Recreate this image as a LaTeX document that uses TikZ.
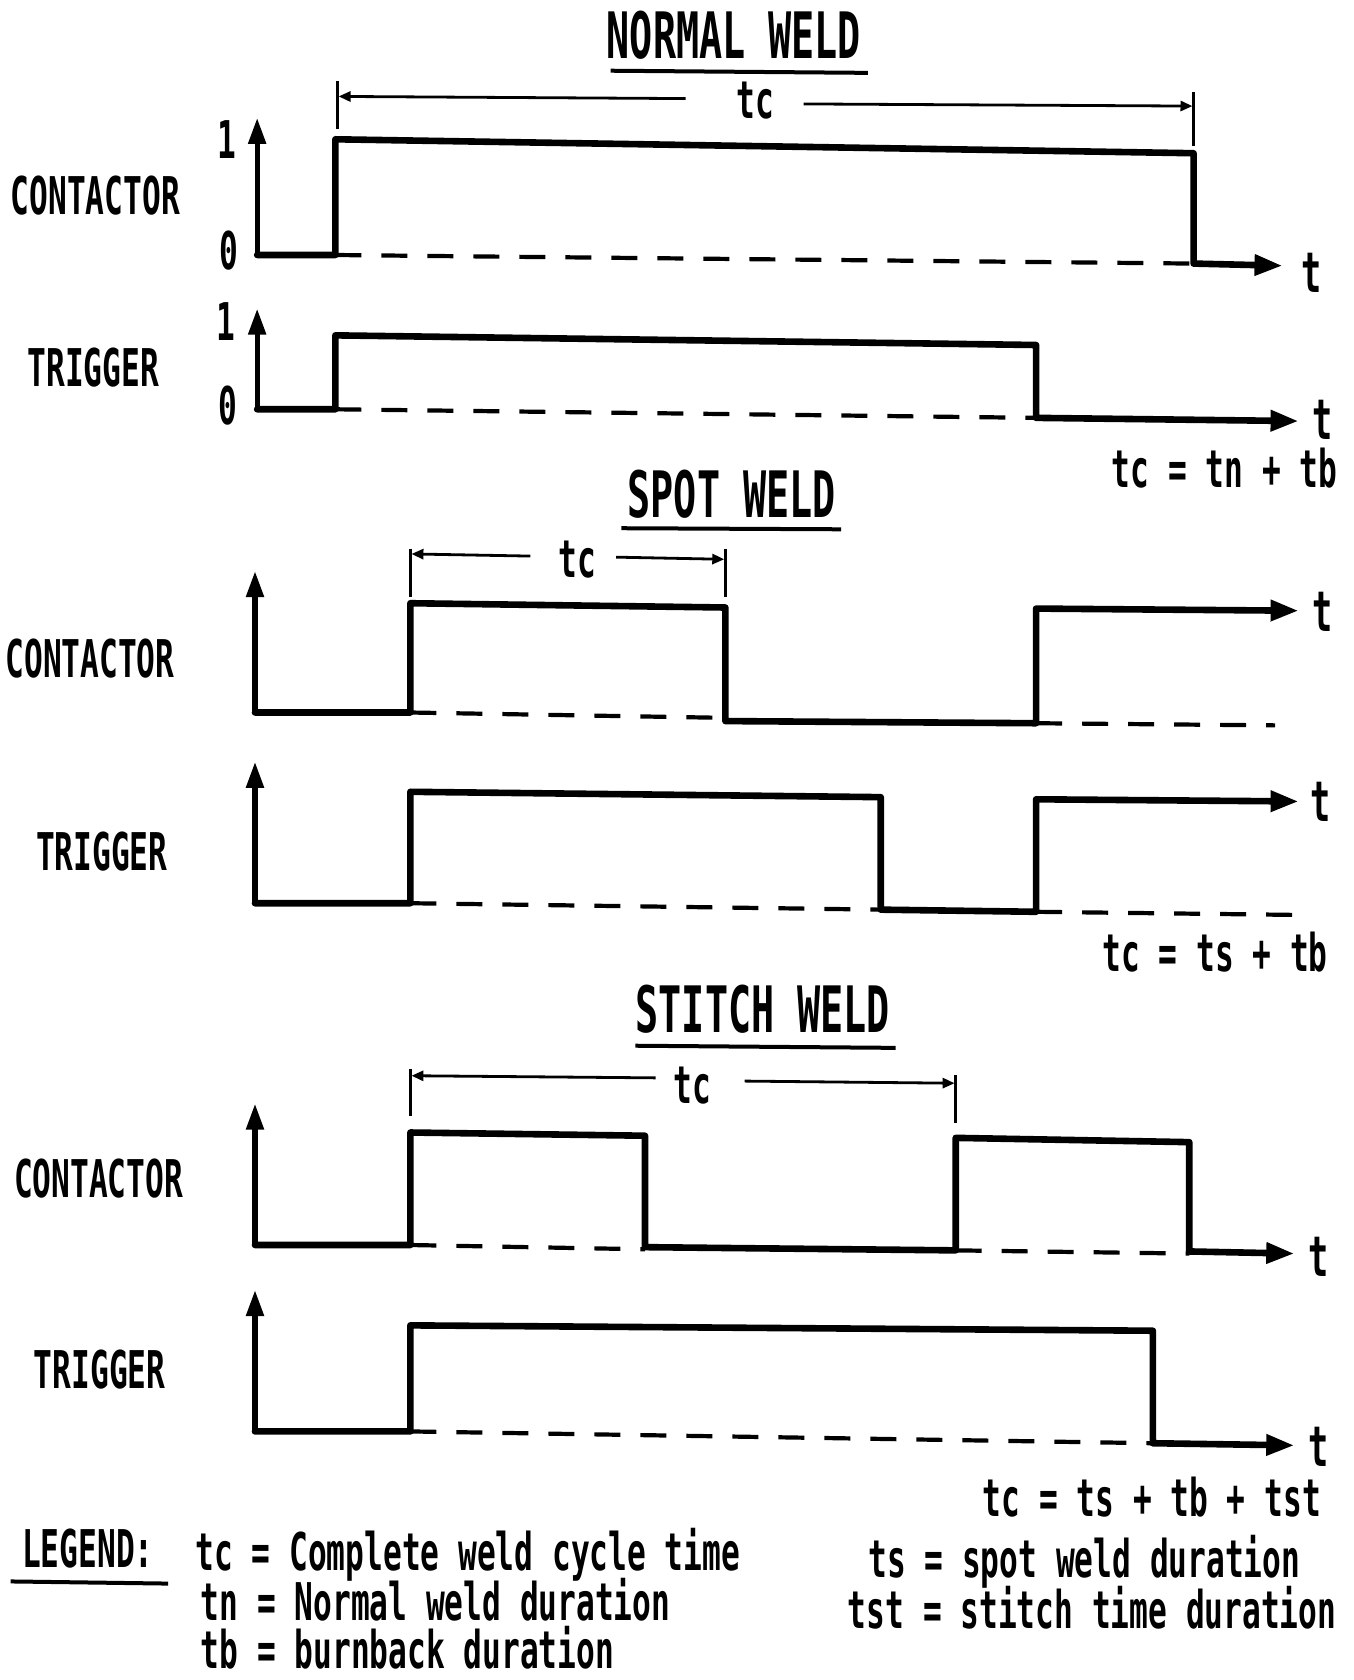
\documentclass[tikz,border=0pt]{standalone}
\usepackage{fontspec}
\newfontfamily\plot[FakeStretch=0.6]{DejaVu Sans Mono}
\usetikzlibrary{arrows.meta}
\begin{document}
\begin{tikzpicture}[x=0.5357pt,y=-0.5357pt,
  sig/.style={line width=3.3pt,line join=round,line cap=round},
  sigend/.style={sig,-{Triangle[length=14pt,width=10pt]}},
  axisv/.style={line width=2.6pt,-{Triangle[length=13pt,width=8.5pt]}},
  base/.style={line width=2.1pt,dash pattern=on 13pt off 10pt},
  dimline/.style={line width=1.4pt,-{Triangle[length=6pt,width=5pt]}},
  dimtick/.style={line width=1.4pt},
  uline/.style={line width=2pt},
  lbl/.style={inner sep=0pt,font=\plot\bfseries\fontsize{26}{28}\selectfont,text height=19pt,text depth=0pt},
  ttl/.style={inner sep=0pt,font=\plot\bfseries\fontsize{32}{34}\selectfont,text height=23.3pt,text depth=0pt},
  tlbl/.style={inner sep=0pt,font=\plot\bfseries\fontsize{28}{30}\selectfont},
  leg/.style={inner sep=0pt,anchor=base west,font=\plot\bfseries\fontsize{26}{28}\selectfont}
]
\useasboundingbox (0,0) rectangle (1263,1568);

% ================= NORMAL WELD =================
\node[ttl] (tN) at (685,33) {NORMAL WELD};
\draw[uline] (570,66) -- (810,68);
\node[lbl] (tcN) at (705,93) {tc};
\coordinate (nL) at (316,90);
\coordinate (nR) at (1113,99);
\draw[dimtick] (315,76) -- (315,120);
\draw[dimtick] (1114,86) -- (1114,136);
\draw[dimline] (640,92) -- (nL);
\draw[dimline] (750,97) -- (nR);

\node[lbl] (cN) at (89,182) {CONTACTOR};
\node[lbl] (c1N) at (212,130) {1};
\node[lbl] (c0N) at (214,234) {0};
\draw[axisv] (240,238) -- (240,110);
\draw[base] (313,238) -- (1114,246);
\draw[sigend] (240,238) -- (313,238) -- (313,130) -- (1114,143) -- (1114,246) -- (1197,248);
\node[tlbl] (ctN) at (1224,255) {t};

\node[lbl] (gN) at (87,343) {TRIGGER};
\node[lbl] (g1N) at (211,300) {1};
\node[lbl] (g0N) at (213,378) {0};
\draw[axisv] (240,382) -- (240,288);
\draw[base] (313,382) -- (967,390);
\draw[sigend] (240,382) -- (313,382) -- (313,313) -- (967,322) -- (967,390) -- (1212,393);
\node[tlbl] (gtN) at (1234,392) {t};
\node[lbl] (eqN) at (1143,437) {tc = tn + tb};

% ================= SPOT WELD =================
\node[ttl] (tS) at (683,461) {SPOT WELD};
\draw[uline] (580,493) -- (785,494);
\node[lbl] (tcS) at (539,521) {tc};
\coordinate (sL) at (384,517);
\coordinate (sR) at (676,522);
\draw[dimtick] (383,512) -- (383,557);
\draw[dimtick] (677,512) -- (677,557);
\draw[dimline] (495,519) -- (sL);
\draw[dimline] (575,520) -- (sR);

\node[lbl] (cS) at (84,615) {CONTACTOR};
\draw[axisv] (238,665) -- (238,533);
\draw[base] (383,665) -- (677,670);
\draw[base] (967,675) -- (1190,677);
\draw[sigend] (238,665) -- (383,665) -- (383,563) -- (677,567) -- (677,673) -- (967,675) -- (967,568) -- (1212,570);
\node[tlbl] (ctS) at (1234,571) {t};

\node[lbl] (gS) at (95,795) {TRIGGER};
\draw[axisv] (238,843) -- (238,711);
\draw[base] (383,843) -- (822,849);
\draw[base] (967,851) -- (1216,854);
\draw[sigend] (238,843) -- (383,843) -- (383,739) -- (822,744) -- (822,849) -- (967,851) -- (967,746) -- (1212,748);
\node[tlbl] (gtS) at (1233,748) {t};
\node[lbl] (eqS) at (1134,889) {tc = ts + tb};

% ================= STITCH WELD =================
\node[ttl] (tT) at (712,942) {STITCH WELD};
\draw[uline] (593,976) -- (836,978);
\node[lbl] (tcT) at (646,1012) {tc};
\coordinate (tL) at (384,1004);
\coordinate (tR) at (891,1011);
\draw[dimtick] (383,998) -- (383,1042);
\draw[dimtick] (892,1003) -- (892,1048);
\draw[dimline] (612,1006) -- (tL);
\draw[dimline] (695,1009) -- (tR);

\node[lbl] (cT) at (92,1100) {CONTACTOR};
\draw[axisv] (238,1162) -- (238,1030);
\draw[base] (383,1162) -- (602,1166);
\draw[base] (892,1167) -- (1110,1170);
\draw[sigend] (238,1162) -- (383,1162) -- (383,1057) -- (602,1060) -- (602,1164) -- (892,1167) -- (892,1062) -- (1110,1066) -- (1110,1168) -- (1208,1170);
\node[tlbl] (ctT) at (1231,1173) {t};

\node[lbl] (gT) at (93,1278) {TRIGGER};
\draw[axisv] (238,1336) -- (238,1204);
\draw[base] (383,1336) -- (1076,1347);
\draw[sigend] (238,1336) -- (383,1336) -- (383,1237) -- (1076,1242) -- (1076,1347) -- (1208,1349);
\node[tlbl] (gtT) at (1231,1350) {t};
\node[lbl] (eqT) at (1075,1398) {tc = ts + tb + tst};

% ================= LEGEND =================
\node[lbl] (legend) at (82,1445) {LEGEND:};
\draw[uline] (10,1476) -- (157,1478);
\node[leg] (l1) at (182,1466) {tc = Complete weld cycle time};
\node[leg] (l2) at (187,1512) {tn = Normal weld duration};
\node[leg] (l3) at (187,1557) {tb = burnback duration};
\node[leg] (l4) at (810,1472) {ts = spot weld duration};
\node[leg] (l5) at (791,1520) {tst = stitch time duration};
\end{tikzpicture}
\end{document}
